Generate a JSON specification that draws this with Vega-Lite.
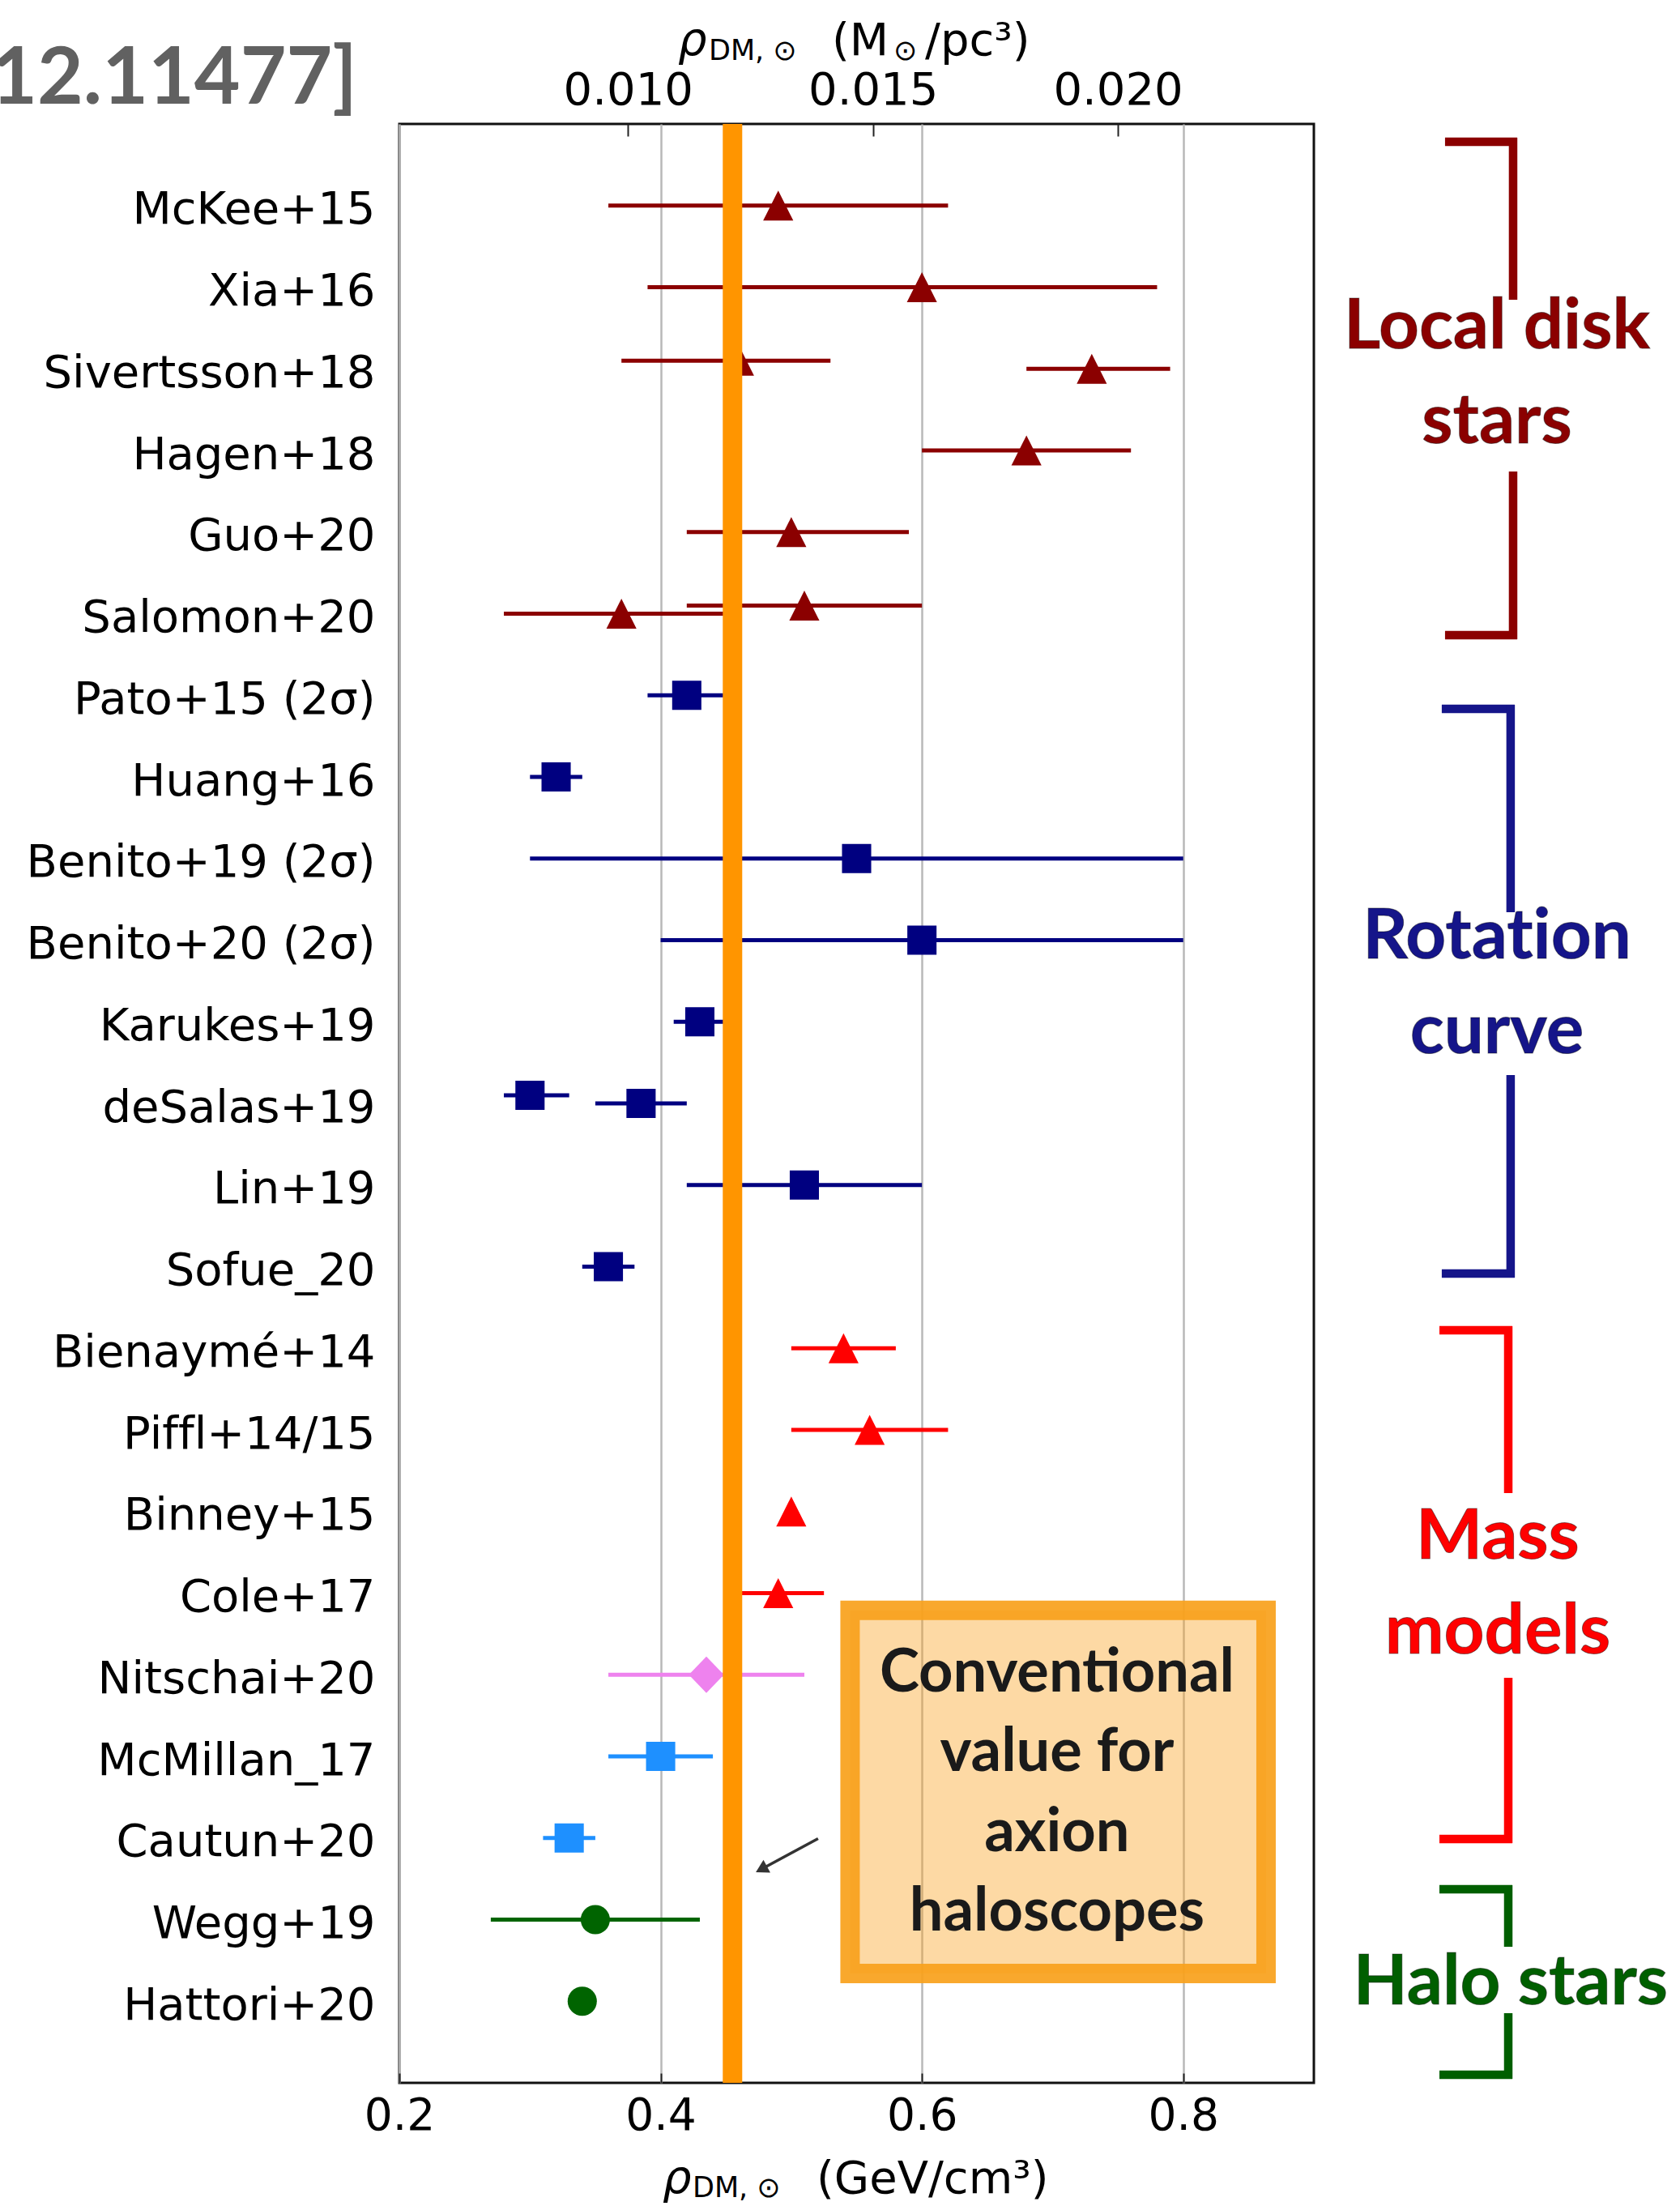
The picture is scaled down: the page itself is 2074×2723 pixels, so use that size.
{
  "$schema": "https://vega.github.io/schema/vega-lite/v6.json",
  "width": 1129,
  "height": 2418,
  "autosize": {"type": "none"},
  "padding": {"left": 493, "top": 153, "right": 452, "bottom": 152},
  "background": "#ffffff",
  "config": {"view": {"stroke": "#111111", "strokeWidth": 3}},
  "datasets": {
    "estimates": [
      {"study": "McKee+15", "series": "Local disk stars", "fit": 1, "rho": 0.49, "lo": 0.36, "hi": 0.62},
      {"study": "Xia+16", "series": "Local disk stars", "fit": 1, "rho": 0.60, "lo": 0.39, "hi": 0.78},
      {"study": "Sivertsson+18", "series": "Local disk stars", "fit": 2, "rho": 0.46, "lo": 0.37, "hi": 0.53},
      {"study": "Sivertsson+18", "series": "Local disk stars", "fit": 1, "rho": 0.73, "lo": 0.68, "hi": 0.79},
      {"study": "Hagen+18", "series": "Local disk stars", "fit": 1, "rho": 0.68, "lo": 0.60, "hi": 0.76},
      {"study": "Guo+20", "series": "Local disk stars", "fit": 1, "rho": 0.50, "lo": 0.42, "hi": 0.59},
      {"study": "Salomon+20", "series": "Local disk stars", "fit": 2, "rho": 0.51, "lo": 0.42, "hi": 0.60},
      {"study": "Salomon+20", "series": "Local disk stars", "fit": 1, "rho": 0.37, "lo": 0.28, "hi": 0.46},
      {"study": "Pato+15 (2σ)", "series": "Rotation curve", "fit": 1, "rho": 0.42, "lo": 0.39, "hi": 0.45},
      {"study": "Huang+16", "series": "Rotation curve", "fit": 1, "rho": 0.32, "lo": 0.30, "hi": 0.34},
      {"study": "Benito+19 (2σ)", "series": "Rotation curve", "fit": 1, "rho": 0.55, "lo": 0.30, "hi": 0.80},
      {"study": "Benito+20 (2σ)", "series": "Rotation curve", "fit": 1, "rho": 0.60, "lo": 0.40, "hi": 0.80},
      {"study": "Karukes+19", "series": "Rotation curve", "fit": 1, "rho": 0.43, "lo": 0.41, "hi": 0.45},
      {"study": "deSalas+19", "series": "Rotation curve", "fit": 2, "rho": 0.30, "lo": 0.28, "hi": 0.33},
      {"study": "deSalas+19", "series": "Rotation curve", "fit": 1, "rho": 0.385, "lo": 0.35, "hi": 0.42},
      {"study": "Lin+19", "series": "Rotation curve", "fit": 1, "rho": 0.51, "lo": 0.42, "hi": 0.60},
      {"study": "Sofue_20", "series": "Rotation curve", "fit": 1, "rho": 0.36, "lo": 0.34, "hi": 0.38},
      {"study": "Bienaymé+14", "series": "Mass models", "fit": 1, "rho": 0.54, "lo": 0.50, "hi": 0.58},
      {"study": "Pif‌f‌l+14/15", "series": "Mass models", "fit": 1, "rho": 0.56, "lo": 0.50, "hi": 0.62},
      {"study": "Binney+15", "series": "Mass models", "fit": 1, "rho": 0.50, "lo": null, "hi": null},
      {"study": "Cole+17", "series": "Mass models", "fit": 1, "rho": 0.49, "lo": 0.455, "hi": 0.525},
      {"study": "Nitschai+20", "series": "Mass models 2", "fit": 1, "rho": 0.435, "lo": 0.36, "hi": 0.51},
      {"study": "McMillan_17", "series": "Mass models 3", "fit": 1, "rho": 0.40, "lo": 0.36, "hi": 0.44},
      {"study": "Cautun+20", "series": "Mass models 3", "fit": 1, "rho": 0.33, "lo": 0.31, "hi": 0.35},
      {"study": "Wegg+19", "series": "Halo stars", "fit": 1, "rho": 0.35, "lo": 0.27, "hi": 0.43},
      {"study": "Hattori+20", "series": "Halo stars", "fit": 1, "rho": 0.34, "lo": null, "hi": null}
    ],
    "brackets": [
      {"group": "Local disk stars", "x": 1.0004, "x2": 1.0556, "y": 0.218, "y2": 0.218},
      {"group": "Local disk stars", "x": 1.0525, "x2": 1.0525, "y": 0.169, "y2": 2.154},
      {"group": "Local disk stars", "x": 1.0525, "x2": 1.0525, "y": 4.258, "y2": 6.313},
      {"group": "Local disk stars", "x": 1.0004, "x2": 1.0556, "y": 6.263, "y2": 6.263},
      {"group": "Rotation curve", "x": 0.9979, "x2": 1.0537, "y": 7.166, "y2": 7.166},
      {"group": "Rotation curve", "x": 1.0506, "x2": 1.0506, "y": 7.117, "y2": 9.658},
      {"group": "Rotation curve", "x": 1.0506, "x2": 1.0506, "y": 11.653, "y2": 14.134},
      {"group": "Rotation curve", "x": 0.9979, "x2": 1.0537, "y": 14.084, "y2": 14.084},
      {"group": "Mass models", "x": 0.9961, "x2": 1.0519, "y": 14.779, "y2": 14.779},
      {"group": "Mass models", "x": 1.0488, "x2": 1.0488, "y": 14.730, "y2": 16.774},
      {"group": "Mass models", "x": 1.0488, "x2": 1.0488, "y": 19.037, "y2": 21.062},
      {"group": "Mass models", "x": 0.9961, "x2": 1.0519, "y": 21.012, "y2": 21.012},
      {"group": "Halo stars", "x": 0.9961, "x2": 1.0519, "y": 21.628, "y2": 21.628},
      {"group": "Halo stars", "x": 1.0488, "x2": 1.0488, "y": 21.578, "y2": 22.333},
      {"group": "Halo stars", "x": 1.0488, "x2": 1.0488, "y": 23.146, "y2": 23.950},
      {"group": "Halo stars", "x": 0.9961, "x2": 1.0519, "y": 23.900, "y2": 23.900}
    ],
    "bracket_labels": [
      {"group": "Local disk stars", "label": "Local disk\nstars", "x": 1.0401, "y": 2.749},
      {"group": "Rotation curve", "label": "Rotat‌ion\ncurve", "x": 1.0401, "y": 10.223},
      {"group": "Mass models", "label": "Mass\nmodels", "x": 1.0407, "y": 17.578},
      {"group": "Halo stars", "label": "Halo stars", "x": 1.0506, "y": 23.037}
    ],
    "callout": [
      {"note": "Conventional\nvalue for\naxion\nhaloscopes", "x0": 0.5450, "x1": 0.8634, "y0": 18.21, "y1": 22.66, "xt": 0.7034, "yt": 19.206}
    ],
    "arrow": [
      {"x_from": 0.5205, "y_from": 21.007, "x_to": 0.4771, "y_to": 21.382}
    ],
    "axis_titles": [
      {"piece": "ρ", "kind": "symbol", "x": 0.4015, "y": 25.351},
      {"piece": "DM,  ⊙", "kind": "sub", "x": 0.4244, "y": 25.40},
      {"piece": "(GeV/cm³)", "kind": "main", "x": 0.5193, "y": 25.351},
      {"piece": "ρ", "kind": "symbol", "x": 0.4133, "y": -0.8437},
      {"piece": "DM,  ⊙", "kind": "sub", "x": 0.4368, "y": -0.784},
      {"piece": "(M", "kind": "main", "x": 0.5311, "y": -0.8437},
      {"piece": "⊙", "kind": "sub", "x": 0.5782, "y": -0.784},
      {"piece": "/pc³)", "kind": "main", "x": 0.6024, "y": -0.8437}
    ],
    "header": [
      {"ref": "[2012.11477]", "x": 0.1678, "y": -0.248}
    ]
  },
  "resolve": {
    "scale": {"x": "independent", "y": "independent", "color": "independent", "shape": "independent"},
    "axis": {"x": "independent", "y": "independent"}
  },
  "layer": [
    {
      "data": {"name": "estimates"},
      "transform": [{"filter": "datum.lo != null"}],
      "mark": {"type": "rule", "strokeWidth": 5},
      "encoding": {
        "x": {
          "field": "lo", "type": "quantitative",
          "scale": {"domain": [0.2, 0.9], "nice": false, "zero": false},
          "axis": {
            "orient": "bottom", "title": null, "values": [0.2, 0.4, 0.6, 0.8], "format": ".1f",
            "grid": true, "gridColor": "#b8b8b8", "gridWidth": 2.5, "domain": false,
            "ticks": true, "tickSize": -12, "tickWidth": 2, "tickColor": "#222222",
            "labelFont": "DejaVu Sans", "labelFontSize": 55, "labelColor": "#000000",
            "labelPadding": 26, "labelFlush": false, "labelOverlap": false
          }
        },
        "x2": {"field": "hi"},
        "y": {
          "field": "study", "type": "nominal",
          "scale": {"type": "point", "padding": 1, "domain": ["McKee+15", "Xia+16", "Sivertsson+18", "Hagen+18", "Guo+20", "Salomon+20", "Pato+15 (2σ)", "Huang+16", "Benito+19 (2σ)", "Benito+20 (2σ)", "Karukes+19", "deSalas+19", "Lin+19", "Sofue_20", "Bienaymé+14", "Pif‌f‌l+14/15", "Binney+15", "Cole+17", "Nitschai+20", "McMillan_17", "Cautun+20", "Wegg+19", "Hattori+20"]},
          "axis": {
            "title": null, "ticks": false, "domain": false, "grid": false,
            "labelFont": "DejaVu Sans", "labelFontSize": 56, "labelColor": "#000000",
            "labelPadding": 30, "labelOffset": 5, "labelLimit": 800
          }
        },
        "yOffset": {"field": "fit", "type": "quantitative", "scale": {"domain": [1, 2], "range": [0, -10]}},
        "color": {
          "field": "series", "type": "nominal", "legend": null,
          "scale": {"domain": ["Local disk stars", "Rotation curve", "Mass models", "Mass models 2", "Mass models 3", "Halo stars"], "range": ["#8B0000", "#000080", "#FF0000", "#EE82EE", "#1E90FF", "#006400"]}
        }
      }
    },
    {
      "data": {"name": "estimates"},
      "mark": {"type": "point", "filled": true, "opacity": 1, "size": 1300, "strokeWidth": 0},
      "encoding": {
        "x": {"field": "rho", "type": "quantitative", "scale": {"domain": [0.2, 0.9], "nice": false, "zero": false}, "axis": null},
        "y": {
          "field": "study", "type": "nominal", "axis": null,
          "scale": {"type": "point", "padding": 1, "domain": ["McKee+15", "Xia+16", "Sivertsson+18", "Hagen+18", "Guo+20", "Salomon+20", "Pato+15 (2σ)", "Huang+16", "Benito+19 (2σ)", "Benito+20 (2σ)", "Karukes+19", "deSalas+19", "Lin+19", "Sofue_20", "Bienaymé+14", "Pif‌f‌l+14/15", "Binney+15", "Cole+17", "Nitschai+20", "McMillan_17", "Cautun+20", "Wegg+19", "Hattori+20"]}
        },
        "yOffset": {"field": "fit", "type": "quantitative", "scale": {"domain": [1, 2], "range": [0, -10]}},
        "color": {
          "field": "series", "type": "nominal", "legend": null,
          "scale": {"domain": ["Local disk stars", "Rotation curve", "Mass models", "Mass models 2", "Mass models 3", "Halo stars"], "range": ["#8B0000", "#000080", "#FF0000", "#EE82EE", "#1E90FF", "#006400"]}
        },
        "shape": {
          "field": "series", "type": "nominal", "legend": null,
          "scale": {"domain": ["Local disk stars", "Rotation curve", "Mass models", "Mass models 2", "Mass models 3", "Halo stars"], "range": ["M0,-1.03L1.03,1.03L-1.03,1.03Z", "square", "M0,-1.03L1.03,1.03L-1.03,1.03Z", "M0,-1.25L1.2,0L0,1.25L-1.2,0Z", "square", "circle"]}
        }
      }
    },
    {
      "data": {"values": [{"msun": 0.010}, {"msun": 0.015}, {"msun": 0.020}]},
      "mark": {"type": "point", "opacity": 0},
      "encoding": {
        "x": {
          "field": "msun", "type": "quantitative",
          "scale": {"domain": [0.0053333, 0.024], "nice": false, "zero": false},
          "axis": {
            "orient": "top", "title": null, "values": [0.01, 0.015, 0.02], "format": ".3f",
            "grid": false, "domain": false, "ticks": true, "tickSize": -15, "tickWidth": 2, "tickColor": "#222222",
            "labelFont": "DejaVu Sans", "labelFontSize": 56, "labelColor": "#000000",
            "labelPadding": 28, "labelFlush": false, "labelOverlap": false
          }
        }
      }
    },
    {
      "data": {"values": [{"rho": 0.455}]},
      "mark": {"type": "rule", "color": "#FF9500", "strokeWidth": 24},
      "encoding": {
        "x": {"field": "rho", "type": "quantitative", "scale": {"domain": [0.2, 0.9], "nice": false, "zero": false}, "axis": null}
      }
    },
    {
      "data": {"name": "callout"},
      "mark": {"type": "rect", "fill": "#F9A11B", "fillOpacity": 0.4, "stroke": "#F9A11B", "strokeOpacity": 0.92, "strokeWidth": 24},
      "encoding": {
        "x": {"field": "x0", "type": "quantitative", "scale": {"domain": [0.2, 0.9], "nice": false, "zero": false}, "axis": null},
        "x2": {"field": "x1"},
        "y": {"field": "y0", "type": "quantitative", "scale": {"domain": [0, 24], "reverse": true, "nice": false, "zero": false}, "axis": null},
        "y2": {"field": "y1"}
      }
    },
    {
      "data": {"name": "callout"},
      "mark": {"type": "text", "font": "Lato", "fontWeight": "bold", "fontSize": 74, "color": "#1a1a1a", "align": "center", "baseline": "alphabetic", "lineBreak": "\n", "lineHeight": 98.3},
      "encoding": {
        "x": {"field": "xt", "type": "quantitative", "scale": {"domain": [0.2, 0.9], "nice": false, "zero": false}, "axis": null},
        "y": {"field": "yt", "type": "quantitative", "scale": {"domain": [0, 24], "reverse": true, "nice": false, "zero": false}, "axis": null},
        "text": {"field": "note"}
      }
    },
    {
      "data": {"name": "arrow"},
      "mark": {"type": "rule", "color": "#333333", "strokeWidth": 3.5},
      "encoding": {
        "x": {"field": "x_from", "type": "quantitative", "scale": {"domain": [0.2, 0.9], "nice": false, "zero": false}, "axis": null},
        "x2": {"field": "x_to"},
        "y": {"field": "y_from", "type": "quantitative", "scale": {"domain": [0, 24], "reverse": true, "nice": false, "zero": false}, "axis": null},
        "y2": {"field": "y_to"}
      }
    },
    {
      "data": {"name": "arrow"},
      "mark": {"type": "point", "shape": "triangle-right", "angle": 151.7, "size": 320, "filled": true, "opacity": 1, "color": "#333333", "strokeWidth": 0},
      "encoding": {
        "x": {"field": "x_to", "type": "quantitative", "scale": {"domain": [0.2, 0.9], "nice": false, "zero": false}, "axis": null},
        "y": {"field": "y_to", "type": "quantitative", "scale": {"domain": [0, 24], "reverse": true, "nice": false, "zero": false}, "axis": null}
      }
    },
    {
      "data": {"name": "brackets"},
      "mark": {"type": "rule", "strokeWidth": 10.5, "strokeCap": "butt"},
      "encoding": {
        "x": {"field": "x", "type": "quantitative", "scale": {"domain": [0.2, 0.9], "nice": false, "zero": false}, "axis": null},
        "x2": {"field": "x2"},
        "y": {"field": "y", "type": "quantitative", "scale": {"domain": [0, 24], "reverse": true, "nice": false, "zero": false}, "axis": null},
        "y2": {"field": "y2"},
        "color": {
          "field": "group", "type": "nominal", "legend": null,
          "scale": {"domain": ["Local disk stars", "Rotation curve", "Mass models", "Halo stars"], "range": ["#8B0000", "#15158A", "#FF0000", "#005F00"]}
        }
      }
    },
    {
      "data": {"name": "bracket_labels"},
      "mark": {"type": "text", "font": "Lato", "fontWeight": "bold", "fontSize": 87, "align": "center", "baseline": "alphabetic", "lineBreak": "\n", "lineHeight": 117, "stroke": "#000000", "strokeWidth": 1, "strokeOpacity": 0.45},
      "encoding": {
        "x": {"field": "x", "type": "quantitative", "scale": {"domain": [0.2, 0.9], "nice": false, "zero": false}, "axis": null},
        "y": {"field": "y", "type": "quantitative", "scale": {"domain": [0, 24], "reverse": true, "nice": false, "zero": false}, "axis": null},
        "text": {"field": "label"},
        "color": {
          "field": "group", "type": "nominal", "legend": null,
          "scale": {"domain": ["Local disk stars", "Rotation curve", "Mass models", "Halo stars"], "range": ["#8B0000", "#15158A", "#FF0000", "#005F00"]}
        }
      }
    },
    {
      "data": {"name": "axis_titles"},
      "transform": [{"filter": "datum.kind == 'main'"}],
      "mark": {"type": "text", "font": "DejaVu Sans", "fontSize": 56, "color": "#000000", "align": "left", "baseline": "alphabetic"},
      "encoding": {
        "x": {"field": "x", "type": "quantitative", "scale": {"domain": [0.2, 0.9], "nice": false, "zero": false}, "axis": null},
        "y": {"field": "y", "type": "quantitative", "scale": {"domain": [0, 24], "reverse": true, "nice": false, "zero": false}, "axis": null},
        "text": {"field": "piece"}
      }
    },
    {
      "data": {"name": "axis_titles"},
      "transform": [{"filter": "datum.kind == 'sub'"}],
      "mark": {"type": "text", "font": "DejaVu Sans", "fontSize": 35, "color": "#000000", "align": "left", "baseline": "alphabetic"},
      "encoding": {
        "x": {"field": "x", "type": "quantitative", "scale": {"domain": [0.2, 0.9], "nice": false, "zero": false}, "axis": null},
        "y": {"field": "y", "type": "quantitative", "scale": {"domain": [0, 24], "reverse": true, "nice": false, "zero": false}, "axis": null},
        "text": {"field": "piece"}
      }
    },
    {
      "data": {"name": "axis_titles"},
      "transform": [{"filter": "datum.kind == 'symbol'"}],
      "mark": {"type": "text", "font": "DejaVu Sans", "fontStyle": "italic", "fontSize": 56, "color": "#000000", "align": "left", "baseline": "alphabetic"},
      "encoding": {
        "x": {"field": "x", "type": "quantitative", "scale": {"domain": [0.2, 0.9], "nice": false, "zero": false}, "axis": null},
        "y": {"field": "y", "type": "quantitative", "scale": {"domain": [0, 24], "reverse": true, "nice": false, "zero": false}, "axis": null},
        "text": {"field": "piece"}
      }
    },
    {
      "data": {"name": "header"},
      "mark": {"type": "text", "font": "Lato", "fontWeight": "bold", "fontSize": 98, "color": "#616161", "align": "right", "baseline": "alphabetic"},
      "encoding": {
        "x": {"field": "x", "type": "quantitative", "scale": {"domain": [0.2, 0.9], "nice": false, "zero": false}, "axis": null},
        "y": {"field": "y", "type": "quantitative", "scale": {"domain": [0, 24], "reverse": true, "nice": false, "zero": false}, "axis": null},
        "text": {"field": "ref"}
      }
    }
  ]
}
